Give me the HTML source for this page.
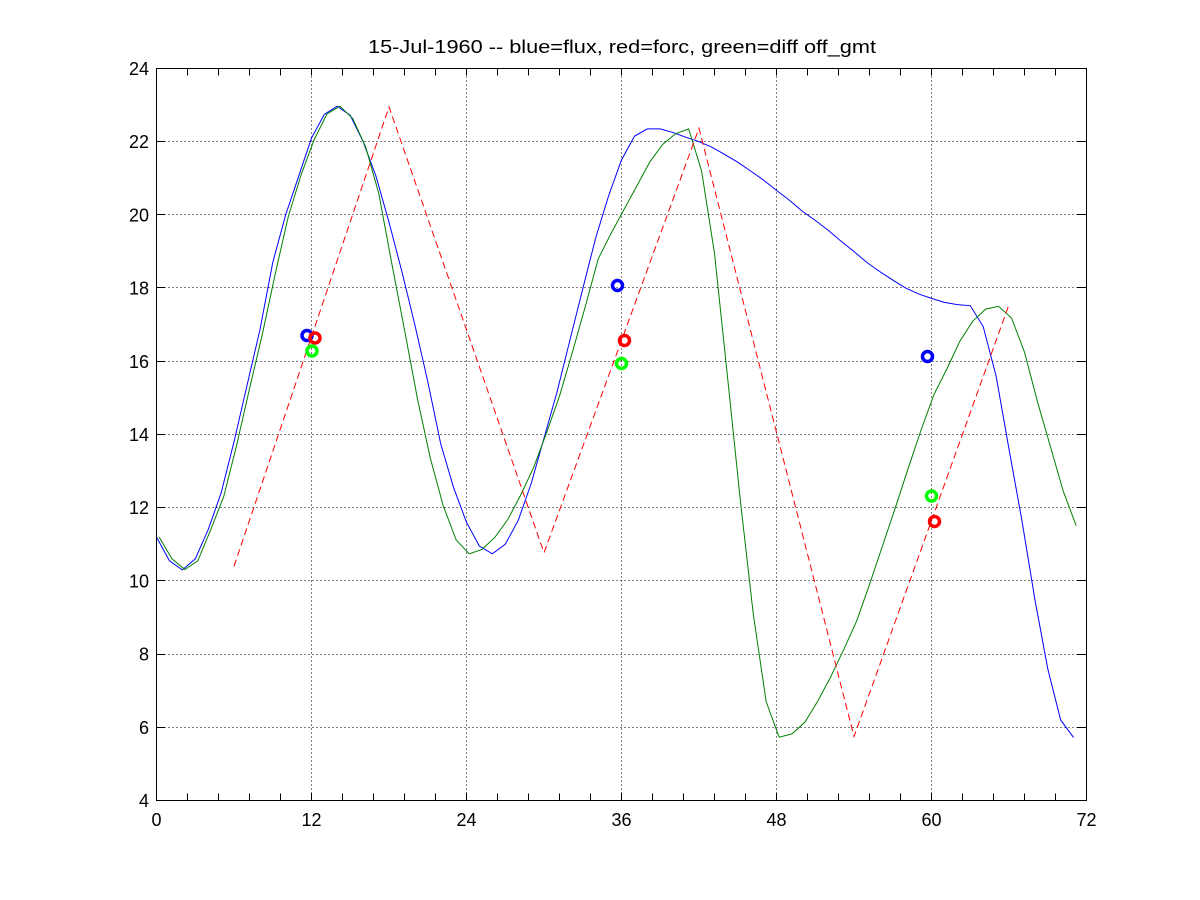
<!DOCTYPE html>
<html>
<head>
<meta charset="utf-8">
<style>
html,body{margin:0;padding:0;background:#fff;}
svg{display:block;}
text{font-family:"Liberation Sans",Arial,sans-serif;fill:#000;}
</style>
</head>
<body>
<svg width="1200" height="900" viewBox="0 0 1200 900" xmlns="http://www.w3.org/2000/svg">
<rect x="0" y="0" width="1200" height="900" fill="#fff"/>

<!-- grid -->
<g stroke="#000" stroke-width="1" stroke-dasharray="1,3" fill="none" shape-rendering="crispEdges">
  <line x1="311.5" y1="68.5" x2="311.5" y2="800.5"/>
  <line x1="466.5" y1="68.5" x2="466.5" y2="800.5"/>
  <line x1="621.5" y1="68.5" x2="621.5" y2="800.5"/>
  <line x1="776.5" y1="68.5" x2="776.5" y2="800.5"/>
  <line x1="931.5" y1="68.5" x2="931.5" y2="800.5"/>
  <line x1="156.5" y1="727.5" x2="1086.5" y2="727.5"/>
  <line x1="156.5" y1="654.5" x2="1086.5" y2="654.5"/>
  <line x1="156.5" y1="580.5" x2="1086.5" y2="580.5"/>
  <line x1="156.5" y1="507.5" x2="1086.5" y2="507.5"/>
  <line x1="156.5" y1="434.5" x2="1086.5" y2="434.5"/>
  <line x1="156.5" y1="361.5" x2="1086.5" y2="361.5"/>
  <line x1="156.5" y1="287.5" x2="1086.5" y2="287.5"/>
  <line x1="156.5" y1="214.5" x2="1086.5" y2="214.5"/>
  <line x1="156.5" y1="141.5" x2="1086.5" y2="141.5"/>
</g>

<!-- data curves -->
<g transform="translate(156.5,946.9) scale(12.9167,-36.6)" fill="none">
  <polyline vector-effect="non-scaling-stroke" stroke="#0000ff" stroke-width="1" points="
0,11.2 1,10.55 2,10.3 3,10.6 4,11.4 5,12.4 6,13.8 7,15.33 8,16.85 9,18.7 10,20.0 11,21.05 12,22.1 13,22.75 14,22.97 15,22.72 16,22.0 17,21.05 18,19.8 19,18.45 20,17.0 21,15.45 22,13.75 23,12.55 24,11.6 25,10.95 26,10.74 27,11.0 28,11.65 29,12.65 30,13.9 31,15.15 32,16.57 33,17.98 34,19.37 35,20.52 36,21.5 37,22.15 38,22.35 39,22.35 40,22.25 41,22.12 42,22.0 43,21.85 44,21.65 45,21.44 46,21.2 47,20.95 48,20.67 49,20.4 50,20.1 51,19.85 52,19.58 53,19.28 54,19.0 55,18.7 56,18.45 57,18.22 58,18.0 59,17.84 60,17.72 61,17.61 62,17.55 63,17.52 64,16.95 65,15.6 66,13.6 67,11.65 68,9.5 69,7.6 70,6.2 71,5.72"/>
  <polyline vector-effect="non-scaling-stroke" stroke="#008000" stroke-width="1" points="
0.2,11.2 1.2,10.6 2.2,10.31 3.2,10.55 4.2,11.4 5.2,12.3 6.2,13.7 7.2,15.25 8.2,16.75 9.2,18.4 10.2,19.95 11.2,21.1 12.2,22.05 13.2,22.76 14.2,22.97 15.2,22.63 16.2,21.85 17.2,20.6 18.2,18.7 19.2,16.86 20.2,14.98 21.2,13.35 22.2,12.05 23.2,11.12 24.2,10.74 25.2,10.86 26.2,11.19 27.2,11.68 28.2,12.35 29.2,13.1 30.2,14.05 31.2,15.05 32.2,16.25 33.2,17.5 34.2,18.8 35.2,19.5 36.2,20.15 37.2,20.8 38.2,21.45 39.2,21.93 40.2,22.22 41.2,22.35 42.2,21.2 43.2,18.95 44.2,15.6 45.2,12.2 46.2,9.1 47.2,6.7 48.2,5.73 49.2,5.82 50.2,6.14 51.2,6.72 52.2,7.38 53.2,8.12 54.2,8.9 55.2,9.9 56.2,10.95 57.2,12.0 58.2,13.08 59.2,14.13 60.2,15.1 61.2,15.8 62.2,16.55 63.2,17.1 64.2,17.43 65.2,17.5 66.2,17.18 67.2,16.25 68.2,14.9 69.2,13.68 70.2,12.45 71.2,11.51"/>
</g>

<!-- red dashed forcing -->
<polyline fill="none" stroke="#ff0000" stroke-width="1" stroke-dasharray="7,4"
  points="234,566.3 389,106.9 544,552.7 699,128.2 854,736.5 1009,304.6"/>

<!-- markers -->
<g fill="none" stroke-width="3.5">
  <circle cx="307" cy="335.5" r="5" stroke="#0000ff"/>
  <circle cx="617.5" cy="285.5" r="5" stroke="#0000ff"/>
  <circle cx="927.5" cy="356.5" r="5" stroke="#0000ff"/>
  <circle cx="315" cy="338" r="5" stroke="#ff0000"/>
  <circle cx="624.5" cy="340.5" r="5" stroke="#ff0000"/>
  <circle cx="934.5" cy="521.5" r="5" stroke="#ff0000"/>
  <circle cx="312" cy="351" r="5" stroke="#00ff00"/>
  <circle cx="621.5" cy="363.5" r="5" stroke="#00ff00"/>
  <circle cx="931.5" cy="496" r="5" stroke="#00ff00"/>
</g>

<!-- axes box -->
<rect x="156.5" y="68.5" width="930" height="732" fill="none" stroke="#000" stroke-width="1" shape-rendering="crispEdges"/>

<!-- ticks -->
<g stroke="#000" stroke-width="1" shape-rendering="crispEdges">
  <path d="M187.5,800.5v-7M218.5,800.5v-7M249.5,800.5v-7M280.5,800.5v-7M311.5,800.5v-7M342.5,800.5v-7M373.5,800.5v-7M404.5,800.5v-7M435.5,800.5v-7M466.5,800.5v-7M497.5,800.5v-7M528.5,800.5v-7M559.5,800.5v-7M590.5,800.5v-7M621.5,800.5v-7M652.5,800.5v-7M683.5,800.5v-7M714.5,800.5v-7M745.5,800.5v-7M776.5,800.5v-7M807.5,800.5v-7M838.5,800.5v-7M869.5,800.5v-7M900.5,800.5v-7M931.5,800.5v-7M962.5,800.5v-7M993.5,800.5v-7M1024.5,800.5v-7M1055.5,800.5v-7"/>
  <path d="M187.5,68.5v7M218.5,68.5v7M249.5,68.5v7M280.5,68.5v7M311.5,68.5v7M342.5,68.5v7M373.5,68.5v7M404.5,68.5v7M435.5,68.5v7M466.5,68.5v7M497.5,68.5v7M528.5,68.5v7M559.5,68.5v7M590.5,68.5v7M621.5,68.5v7M652.5,68.5v7M683.5,68.5v7M714.5,68.5v7M745.5,68.5v7M776.5,68.5v7M807.5,68.5v7M838.5,68.5v7M869.5,68.5v7M900.5,68.5v7M931.5,68.5v7M962.5,68.5v7M993.5,68.5v7M1024.5,68.5v7M1055.5,68.5v7"/>
  <path d="M156.5,727.5h9M156.5,654.5h9M156.5,580.5h9M156.5,507.5h9M156.5,434.5h9M156.5,361.5h9M156.5,287.5h9M156.5,214.5h9M156.5,141.5h9"/>
  <path d="M1086.5,727.5h-9M1086.5,654.5h-9M1086.5,580.5h-9M1086.5,507.5h-9M1086.5,434.5h-9M1086.5,361.5h-9M1086.5,287.5h-9M1086.5,214.5h-9M1086.5,141.5h-9"/>
</g>

<!-- x labels -->
<g font-size="18" text-anchor="middle">
  <text x="156.5" y="826">0</text>
  <text x="311.5" y="826">12</text>
  <text x="466.5" y="826">24</text>
  <text x="621.5" y="826">36</text>
  <text x="776.5" y="826">48</text>
  <text x="931.5" y="826">60</text>
  <text x="1086.5" y="826">72</text>
</g>

<!-- y labels -->
<g font-size="18" text-anchor="end">
  <text x="149" y="807">4</text>
  <text x="149" y="733.8">6</text>
  <text x="149" y="660.6">8</text>
  <text x="149" y="587.4">10</text>
  <text x="149" y="514.2">12</text>
  <text x="149" y="441">14</text>
  <text x="149" y="367.8">16</text>
  <text x="149" y="294.6">18</text>
  <text x="149" y="221.4">20</text>
  <text x="149" y="148.2">22</text>
  <text x="149" y="75">24</text>
</g>

<!-- title -->
<text x="368" y="53" font-size="18" textLength="508" lengthAdjust="spacingAndGlyphs">15-Jul-1960 -- blue=flux, red=forc, green=diff off_gmt</text>
</svg>
</body>
</html>
